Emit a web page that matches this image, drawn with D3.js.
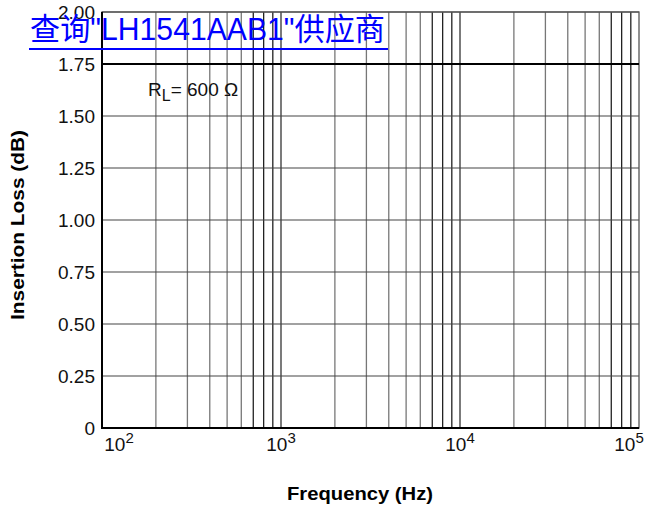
<!DOCTYPE html>
<html>
<head>
<meta charset="utf-8">
<script src="https://cdn.jsdelivr.net/npm/d3@7"></script>
<style>
  body { margin: 0; background: #fff; }
  svg { display: block; font-family: "Liberation Sans", Arial, sans-serif; }
</style>
</head>
<body>
<svg id="chart" width="647" height="510"></svg>
<script>
// Data
const freq = [100, 300, 1000, 3000, 10000, 30000, 100000];
const loss = [1.75, 1.75, 1.75, 1.75, 1.75, 1.75, 1.75];
const yTicks = [0, 0.25, 0.5, 0.75, 1.0, 1.25, 1.5, 1.75, 2.0];
const yTickLabels = ["0", "0.25", "0.50", "0.75", "1.00", "1.25", "1.50", "1.75", "2.00"];
const decades = [2, 3, 4, 5];

const svg = d3.select("#chart");
const plotL = 102, plotR = 639, plotT = 12, plotB = 428;

const x = d3.scaleLog().domain([100, 100000]).range([plotL, plotR]);
const y = d3.scaleLinear().domain([0, 2]).range([plotB, plotT]);

// minor log grid (2..9 per decade)
const minor = [];
for (let d = 2; d < 5; d++) {
  for (let m = 2; m <= 9; m++) minor.push(m * Math.pow(10, d));
}
svg.append("g")
  .selectAll("line")
  .data(minor)
  .join("line")
  .attr("x1", d => x(d)).attr("x2", d => x(d))
  .attr("y1", plotT).attr("y2", plotB)
  .attr("stroke", (d, i) => (i % 8) >= 5 ? "#222" : "#777")
  .attr("stroke-width", 1.3);

// decade lines
svg.append("g")
  .selectAll("line")
  .data(decades.slice(1, 3))
  .join("line")
  .attr("x1", d => x(Math.pow(10, d))).attr("x2", d => x(Math.pow(10, d)))
  .attr("y1", plotT).attr("y2", plotB)
  .attr("stroke", "#333")
  .attr("stroke-width", 1.3);

// horizontal grid
svg.append("g")
  .selectAll("line")
  .data(yTicks)
  .join("line")
  .attr("x1", plotL).attr("x2", plotR)
  .attr("y1", d => y(d)).attr("y2", d => y(d))
  .attr("stroke", "#444")
  .attr("stroke-width", 1.2);

// frame
svg.append("rect")
  .attr("x", plotL).attr("y", plotT)
  .attr("width", plotR - plotL).attr("height", plotB - plotT)
  .attr("fill", "none")
  .attr("stroke", "#555")
  .attr("stroke-width", 1.3);
svg.append("line")
  .attr("x1", plotL).attr("x2", plotL).attr("y1", plotT).attr("y2", plotB + 1)
  .attr("stroke", "#000").attr("stroke-width", 2);
svg.append("line")
  .attr("x1", plotL - 1).attr("x2", plotR).attr("y1", plotB).attr("y2", plotB)
  .attr("stroke", "#000").attr("stroke-width", 2);

// data line
const line = d3.line().x((d, i) => x(freq[i])).y(d => y(d));
svg.append("path")
  .attr("d", line(loss))
  .attr("fill", "none")
  .attr("stroke", "#000")
  .attr("stroke-width", 2.2);

// y tick labels
svg.append("g")
  .selectAll("text")
  .data(yTicks)
  .join("text")
  .attr("x", 95)
  .attr("y", d => y(d) + 7)
  .attr("text-anchor", "end")
  .attr("font-size", 19)
  .attr("fill", "#111")
  .text((d, i) => yTickLabels[i]);

// x tick labels, 10 with superscript
const xl = svg.append("g")
  .selectAll("text")
  .data(decades)
  .join("text")
  .attr("x", (d, i) => x(Math.pow(10, d)) + (i === 0 ? 17 : i === 3 ? -10 : 0))
  .attr("y", 451)
  .attr("text-anchor", "middle")
  .attr("font-size", 19)
  .attr("fill", "#111");
xl.append("tspan").text("10");
xl.append("tspan").attr("dy", -8).attr("font-size", 15).text(d => d);

// axis titles
svg.append("text")
  .attr("x", 287).attr("y", 500)
  .attr("font-size", 18).attr("font-weight", "bold")
  .attr("textLength", 146).attr("lengthAdjust", "spacingAndGlyphs")
  .text("Frequency (Hz)");
svg.append("text")
  .attr("transform", "translate(24,320) rotate(-90)")
  .attr("font-size", 18).attr("font-weight", "bold")
  .attr("textLength", 190).attr("lengthAdjust", "spacingAndGlyphs")
  .text("Insertion Loss (dB)");

// annotation R_L = 600 Ω
const ann = svg.append("text")
  .attr("x", 148).attr("y", 96)
  .attr("font-size", 19).attr("fill", "#111");
ann.append("tspan").text("R");
ann.append("tspan").attr("dy", 5).attr("font-size", 16).text("L");
ann.append("tspan").attr("dy", -5).text("= 600 \u03A9");

// blue link overlay
svg.append("text")
  .attr("x", 30).attr("y", 40)
  .attr("font-family", "'Liberation Sans', 'Noto Sans CJK SC', sans-serif")
  .attr("font-size", 31)
  .attr("fill", "#0000ff")
  .attr("textLength", 355).attr("lengthAdjust", "spacingAndGlyphs")
  .text("查询\"LH1541AAB1\"供应商");
svg.append("line")
  .attr("x1", 29).attr("x2", 388).attr("y1", 49).attr("y2", 49)
  .attr("stroke", "#0000ff").attr("stroke-width", 2);
</script>
</body>
</html>
